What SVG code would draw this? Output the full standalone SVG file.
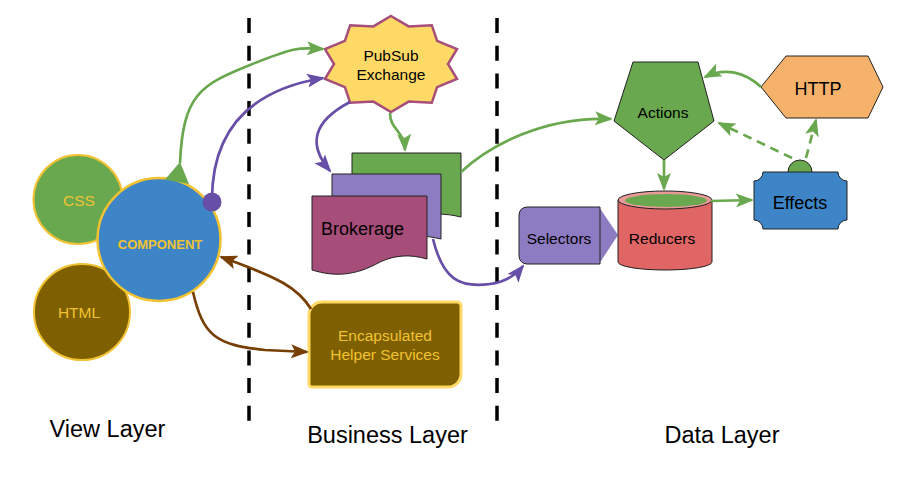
<svg xmlns="http://www.w3.org/2000/svg" width="916" height="495" viewBox="0 0 916 495">
<style>
text{font-family:"Liberation Sans",Arial,sans-serif;}
.lbl{font-size:15.5px;fill:#000;text-anchor:middle;}
.big{font-size:18px;fill:#000;text-anchor:middle;}
.ylw{fill:#f1c232;text-anchor:middle;}
.layer{font-size:23.5px;fill:#000;text-anchor:middle;}
.sep{stroke:#000;stroke-width:3.5;stroke-dasharray:15 12.7;fill:none;}
.edge{fill:none;stroke-width:2.7;}
.g{stroke:#6aa84f;}
.p{stroke:#674ea7;}
.b{stroke:#783f04;}
.shape{stroke:#222;stroke-width:1;}
</style>
<defs>
<marker id="ag" viewBox="0 0 18 14" markerWidth="18" markerHeight="14" refX="16" refY="7" orient="auto" markerUnits="userSpaceOnUse"><path d="M0,0 L18,7 L0,14 L4,7 Z" fill="#6aa84f"/></marker>
<marker id="ap" viewBox="0 0 18 14" markerWidth="18" markerHeight="14" refX="16" refY="7" orient="auto" markerUnits="userSpaceOnUse"><path d="M0,0 L18,7 L0,14 L4,7 Z" fill="#674ea7"/></marker>
<marker id="ab" viewBox="0 0 18 14" markerWidth="18" markerHeight="14" refX="16" refY="7" orient="auto" markerUnits="userSpaceOnUse"><path d="M0,0 L18,7 L0,14 L4,7 Z" fill="#783f04"/></marker>
</defs>

<g id="separators">
<line class="sep" x1="249" y1="18" x2="249" y2="421"/>
<line class="sep" x1="497" y1="18" x2="497" y2="421"/>
</g>

<g id="layer-labels">
<text class="layer" x="107.5" y="437">View Layer</text>
<text class="layer" x="387.5" y="443">Business Layer</text>
<text class="layer" x="722" y="443">Data Layer</text>
</g>

<g id="css">
<circle cx="78" cy="199.5" r="44.5" fill="#6aa84f" stroke="#f1c232" stroke-width="2"/>
<text class="ylw" x="79" y="205.5" font-size="15.5">CSS</text>
</g>
<g id="html">
<circle cx="82" cy="312" r="48" fill="#7f6000" stroke="#f1c232" stroke-width="2"/>
<text class="ylw" x="79" y="317.5" font-size="15.5">HTML</text>
</g>
<g id="component">
<circle cx="159" cy="239.5" r="61.5" fill="#3d85c6" stroke="#f1c232" stroke-width="2.5"/>
<text class="ylw" x="160" y="248.5" font-size="13" font-weight="bold">COMPONENT</text>
</g>

<g id="pubsub">
<polygon points="391,16 408.6,26.4 431.8,25.2 437.1,40.8 457,49.2 448,64 457,78.8 437.1,87.2 431.8,102.8 408.6,101.6 391,112 373.4,101.6 350.2,102.8 344.9,87.2 325,78.8 334,64 325,49.2 344.9,40.8 350.2,25.2 373.4,26.4" fill="#ffd966" stroke="#a64d79" stroke-width="2.5" stroke-linejoin="miter"/>
<text class="lbl" x="391" y="60.5">PubSub</text>
<text class="lbl" x="391" y="80">Exchange</text>
</g>

<g id="brokerage">
<path class="shape" d="M352,153 H461 V217 C445,213 430,213 415,218 C395,224 375,222 352,217 Z" fill="#6aa84f"/>
<path class="shape" d="M332,174 H441 V239 C425,235 410,235 395,240 C375,246 355,244 332,239 Z" fill="#8e7cc3"/>
<path class="shape" d="M312,196 H427 V259 C410,254 395,255 380,262 C355,276 335,277 312,270 Z" fill="#a64d79"/>
<text x="321" y="234.5" font-size="18" fill="#000">Brokerage</text>
</g>

<g id="helpers">
<path d="M322,302 H457 A4,4 0 0 1 461,306 V374 A13,13 0 0 1 448,387 H312 A3,3 0 0 1 309,384 V315 A13,13 0 0 1 322,302 Z" fill="#7f6000" stroke="#ffd966" stroke-width="3"/>
<text class="ylw" x="385" y="340.5" font-size="15.5">Encapsulated</text>
<text class="ylw" x="385" y="360" font-size="15.5">Helper Services</text>
</g>

<g id="actions">
<polygon class="shape" points="633,62 698,62 714,121 664,160 614,121" fill="#6aa84f"/>
<text class="lbl" x="663" y="117.5">Actions</text>
</g>

<g id="http">
<polygon class="shape" points="761,87 786,56 868,56 883,87 868,118 786,118" fill="#f6b26b"/>
<text class="big" x="818" y="94.5">HTTP</text>
</g>

<g id="selectors">
<polygon points="599,207 618,235 599,264" fill="#8e7cc3"/>
<path class="shape" d="M527,207 H600 V264 H527 A8,8 0 0 1 519,256 V215 A8,8 0 0 1 527,207 Z" fill="#8e7cc3"/>
<text class="lbl" x="559" y="243.5">Selectors</text>
</g>

<g id="reducers">
<path class="shape" d="M618,200 V262 A47,8 0 0 0 712,262 V200 Z" fill="#e06666"/>
<ellipse class="shape" cx="665" cy="200" rx="47" ry="9" fill="#ea9999"/>
<ellipse cx="666" cy="200.5" rx="41" ry="6.5" fill="#6aa84f"/>
<text class="lbl" x="662" y="243.5">Reducers</text>
</g>

<g id="effects">
<circle class="shape" cx="800" cy="172" r="12" fill="#6aa84f"/>
<path class="shape" d="M763,172 H838 A9,9 0 0 0 847,181 V220 A9,9 0 0 0 838,229 H763 A9,9 0 0 0 754,220 V181 A9,9 0 0 0 763,172 Z" fill="#3d85c6"/>
<text class="big" x="800" y="208.5">Effects</text>
</g>

<g id="connectors">
<path class="edge g" d="M180,163 C183,95 200,85 250,65 S300,48 323,49" marker-end="url(#ag)"/>
<polygon points="180,162 165,179.5 189,184" fill="#6aa84f"/>
<path class="edge p" d="M212,200 C212,130 250,90 323,78" marker-end="url(#ap)"/>
<circle cx="212" cy="202" r="9.5" fill="#674ea7"/>
<path class="edge p" d="M350,102 C312,122 308,145 330,171" marker-end="url(#ap)"/>
<path class="edge g" d="M390,113 C390,130 404,130 405,150" marker-end="url(#ag)"/>
<path class="edge g" d="M461,172 C490,145 545,116 611,119" marker-end="url(#ag)"/>
<path class="edge p" d="M433,239 C443,280 460,288 490,284 C505,282 515,276 523,266" marker-end="url(#ap)"/>
<path class="edge b" d="M311,309 C298,288 280,278 221,257" marker-end="url(#ab)"/>
<path class="edge b" d="M193,292 C203,335 215,345 265,350 L307,352" marker-end="url(#ab)"/>
<path class="edge g" d="M761,87 C745,72 725,67 705,77" marker-end="url(#ag)"/>
<path class="edge g" d="M664,160 L664,189" marker-end="url(#ag)"/>
<path class="edge g" d="M711,201 L752,200" marker-end="url(#ag)"/>
<path class="edge g" d="M792,158 L719,123" stroke-dasharray="9 6" marker-end="url(#ag)"/>
<path class="edge g" d="M806,158 L816,120" stroke-dasharray="9 6" marker-end="url(#ag)"/>
</g>
</svg>
